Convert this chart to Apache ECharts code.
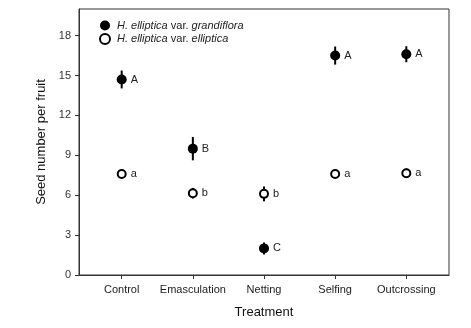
<!DOCTYPE html>
<html lang="en">
<head>
    <meta charset="UTF-8">
    <title>Seed number per fruit</title>
    <script src="https://cdn.jsdelivr.net/npm/echarts@6/dist/echarts.min.js"></script>
</head>
<body style="margin:0;background:#fff;">
    <div id="main" style="width: 471px;height:328px;"></div>
    <script type="text/javascript">
        // 處理組別
        var treatments = ['Control', 'Emasculation', 'Netting', 'Selfing', 'Outcrossing'];

        // H. elliptica var. grandiflora (實心)
        var grandMean = [14.7, 9.5, 2.0, 16.5, 16.6];
        var grandErr = [0.67, 0.88, 0.45, 0.68, 0.6];
        var grandLetters = ['A', 'B', 'C', 'A', 'A'];

        // H. elliptica var. elliptica (空心)
        var ellMean = [7.6, 6.15, 6.1, 7.6, 7.65];
        var ellErr = [0.35, 0.4, 0.55, 0.3, 0.35];
        var ellLetters = ['a', 'b', 'b', 'a', 'a'];

        var yTicks = [0, 3, 6, 9, 12, 15, 18];

        var grandName = 'H. elliptica var. grandiflora';
        var ellName = 'H. elliptica var. elliptica';

        var font = 'Liberation Sans, Arial, sans-serif';
        var axisColor = '#333';

        function points(mean) {
            return mean.map(function (v, i) { return [i + 1, v]; });
        }
        function bars(mean, err) {
            return mean.map(function (v, i) { return [i + 1, v - err[i], v + err[i]]; });
        }
        // 誤差線
        function errRender(params, api) {
            var lo = api.coord([api.value(0), api.value(1)]);
            var hi = api.coord([api.value(0), api.value(2)]);
            return {
                type: 'line',
                shape: { x1: lo[0], y1: lo[1], x2: hi[0], y2: hi[1] },
                style: { stroke: '#000', lineWidth: 2 }
            };
        }

        var myChart = echarts.init(document.getElementById('main'));

        var option = {
            animation: false,
            backgroundColor: '#fff',
            textStyle: { fontFamily: font },
            grid: { left: 79, right: 22, top: 9, bottom: 53, show: true, borderColor: axisColor, borderWidth: 1 },
            legend: {
                orient: 'vertical',
                left: 94,
                top: 15,
                itemWidth: 10,
                itemHeight: 10,
                itemGap: 2,
                icon: 'circle',
                data: [grandName, ellName],
                formatter: function (name) {
                    var parts = name.split(' var. ');
                    return '{i|' + parts[0] + '} var. {i|' + parts[1] + '}';
                },
                textStyle: {
                    fontSize: 11,
                    color: '#222',
                    padding: [0, 0, 0, 2],
                    rich: { i: { fontStyle: 'italic', fontSize: 11, color: '#222' } }
                }
            },
            xAxis: {
                type: 'value',
                min: 0.4,
                max: 5.6,
                name: 'Treatment',
                nameLocation: 'middle',
                nameGap: 31,
                nameTextStyle: { fontSize: 13, color: '#111' },
                splitLine: { show: false },
                axisLine: { show: true, lineStyle: { color: axisColor } },
                axisTick: { show: true, length: 4, lineStyle: { color: axisColor }, customValues: [1, 2, 3, 4, 5] },
                axisLabel: {
                    fontSize: 11,
                    color: '#222',
                    margin: 9,
                    customValues: [1, 2, 3, 4, 5],
                    formatter: function (v) { return treatments[Math.round(v) - 1]; }
                }
            },
            yAxis: {
                type: 'value',
                min: 0,
                max: 20,
                name: 'Seed number per fruit',
                nameLocation: 'middle',
                nameGap: 28,
                nameTextStyle: { fontSize: 13, color: '#111' },
                splitLine: { show: false },
                axisLine: { show: true, lineStyle: { color: axisColor } },
                axisTick: { show: true, length: 4, lineStyle: { color: axisColor }, customValues: yTicks },
                axisLabel: { fontSize: 11, color: '#333', margin: 8, customValues: yTicks }
            },
            series: [
                {
                    type: 'custom',
                    renderItem: errRender,
                    data: bars(grandMean, grandErr),
                    encode: { x: 0, y: [1, 2] },
                    z: 1,
                    silent: true
                },
                {
                    type: 'custom',
                    renderItem: errRender,
                    data: bars(ellMean, ellErr),
                    encode: { x: 0, y: [1, 2] },
                    z: 1,
                    silent: true
                },
                {
                    name: grandName,
                    type: 'scatter',
                    symbol: 'circle',
                    symbolSize: 10,
                    z: 3,
                    itemStyle: { color: '#000', opacity: 1 },
                    data: points(grandMean),
                    label: {
                        show: true,
                        position: 'right',
                        distance: 4,
                        fontSize: 11,
                        color: '#222',
                        formatter: function (p) { return grandLetters[p.dataIndex]; }
                    }
                },
                {
                    name: ellName,
                    type: 'scatter',
                    symbol: 'circle',
                    symbolSize: 8,
                    z: 3,
                    itemStyle: { color: '#fff', borderColor: '#000', borderWidth: 2, opacity: 1 },
                    data: points(ellMean),
                    label: {
                        show: true,
                        position: 'right',
                        distance: 4,
                        fontSize: 11,
                        color: '#222',
                        formatter: function (p) { return ellLetters[p.dataIndex]; }
                    }
                }
            ]
        };

        myChart.setOption(option);
    </script>
</body>
</html>
